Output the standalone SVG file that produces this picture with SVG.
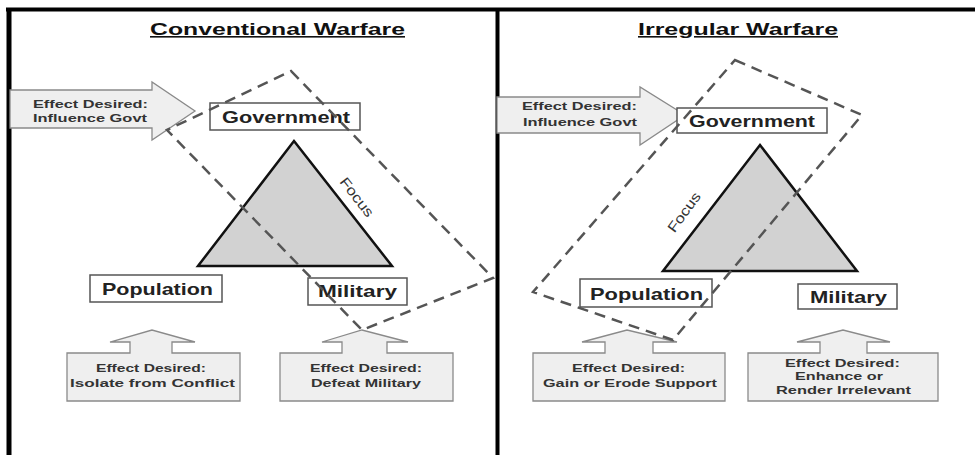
<svg xmlns="http://www.w3.org/2000/svg" width="975" height="455" viewBox="0 0 975 455">
<style>
text{font-family:"Liberation Sans",Arial,sans-serif;fill:#111}
.title{font-size:16px;font-weight:bold;text-decoration:underline}
.node{fill:#fff;stroke:#555;stroke-width:1.5}
.nodet{font-size:17px;font-weight:bold;fill:#222}
.arrow{fill:#efefef;stroke:#8a8a8a;stroke-width:1.3}
.eff{font-size:11.5px;font-weight:bold;fill:#333}
.tri{fill:#d2d2d2;stroke:#111;stroke-width:2.5;stroke-linejoin:miter}
.focus{fill:none;stroke:#555;stroke-width:2.5;stroke-dasharray:11 7}
.ft{font-size:14px;fill:#333}
.frame{stroke:#000;fill:none}
</style>
<rect width="975" height="455" fill="#fff"/>
<g id="frame">
<line class="frame" x1="6" y1="9.5" x2="975" y2="9.5" stroke-width="4"/>
<line class="frame" x1="9" y1="8" x2="9" y2="455" stroke-width="5"/>
<line class="frame" x1="497.5" y1="8" x2="497.5" y2="455" stroke-width="4"/>
</g>

<!-- Left panel -->
<g id="title-conventional"><text class="title" x="150" y="35" textLength="255" lengthAdjust="spacingAndGlyphs">Conventional Warfare</text></g>
<g id="conv-govt-arrow">
<polygon class="arrow" points="10,90 152,90 152,82 195,111 152,140 152,128 10,128"/>
<text class="eff" x="33" y="108" textLength="115" lengthAdjust="spacingAndGlyphs">Effect Desired:</text>
<text class="eff" x="33" y="122" textLength="114" lengthAdjust="spacingAndGlyphs">Influence Govt</text>
</g>
<g id="conv-government">
<rect class="node" x="210" y="103" width="150" height="27"/>
<text class="nodet" x="222" y="123" textLength="128" lengthAdjust="spacingAndGlyphs">Government</text>
</g>
<g id="conv-triangle"><polygon class="tri" points="294,141 392,266 198,266"/></g>
<g id="conv-population">
<rect class="node" x="90" y="275" width="132" height="27"/>
<text class="nodet" x="102" y="295" textLength="111" lengthAdjust="spacingAndGlyphs">Population</text>
</g>
<g id="conv-military">
<rect class="node" x="308" y="278" width="99" height="27"/>
<text class="nodet" x="318" y="297" textLength="79" lengthAdjust="spacingAndGlyphs">Military</text>
</g>
<g id="conv-isolate">
<path class="arrow" d="M67,353 L130,353 L130,342 L110,342 L152,330 L195,342 L172,342 L172,353 L240,353 L240,401 L67,401 Z"/>
<text class="eff" x="96" y="372" textLength="110" lengthAdjust="spacingAndGlyphs">Effect Desired:</text>
<text class="eff" x="70" y="387" textLength="165" lengthAdjust="spacingAndGlyphs">Isolate from Conflict</text>
</g>
<g id="conv-defeat">
<path class="arrow" d="M280,353 L342,353 L342,342 L322,342 L362,330 L408,342 L387,342 L387,353 L453,353 L453,401 L280,401 Z"/>
<text class="eff" x="310" y="372" textLength="112" lengthAdjust="spacingAndGlyphs">Effect Desired:</text>
<text class="eff" x="311" y="387" textLength="110" lengthAdjust="spacingAndGlyphs">Defeat Military</text>
</g>

<!-- Right panel -->
<g id="title-irregular"><text class="title" x="638" y="35" textLength="200" lengthAdjust="spacingAndGlyphs">Irregular Warfare</text></g>
<g id="irr-govt-arrow">
<polygon class="arrow" points="497,97 640,97 640,87 685,115 640,145 640,133 497,133"/>
<text class="eff" x="522" y="110" textLength="115" lengthAdjust="spacingAndGlyphs">Effect Desired:</text>
<text class="eff" x="523" y="126" textLength="114" lengthAdjust="spacingAndGlyphs">Influence Govt</text>
</g>
<g id="irr-government">
<rect class="node" x="677" y="108" width="150" height="25"/>
<text class="nodet" x="689" y="127" textLength="126" lengthAdjust="spacingAndGlyphs">Government</text>
</g>
<g id="irr-triangle"><polygon class="tri" points="760,145 857,271 663,271"/></g>
<g id="irr-population">
<rect class="node" x="580" y="279" width="132" height="28"/>
<text class="nodet" x="590" y="300" textLength="113" lengthAdjust="spacingAndGlyphs">Population</text>
</g>
<g id="irr-military">
<rect class="node" x="798" y="284" width="99" height="25"/>
<text class="nodet" x="810" y="303" textLength="77" lengthAdjust="spacingAndGlyphs">Military</text>
</g>
<g id="irr-support">
<path class="arrow" d="M533,353 L605,353 L605,342 L582,342 L627,330 L677,342 L653,342 L653,353 L725,353 L725,401 L533,401 Z"/>
<text class="eff" x="572" y="372" textLength="113" lengthAdjust="spacingAndGlyphs">Effect Desired:</text>
<text class="eff" x="543" y="387" textLength="174" lengthAdjust="spacingAndGlyphs">Gain or Erode Support</text>
</g>
<g id="irr-enhance">
<path class="arrow" d="M748,353 L820,353 L820,342 L797,342 L843,330 L890,342 L867,342 L867,353 L938,353 L938,401 L748,401 Z"/>
<text class="eff" x="785" y="367" textLength="115" lengthAdjust="spacingAndGlyphs">Effect Desired:</text>
<text class="eff" x="795" y="380" textLength="88" lengthAdjust="spacingAndGlyphs">Enhance or</text>
<text class="eff" x="776" y="394" textLength="135" lengthAdjust="spacingAndGlyphs">Render Irrelevant</text>
</g>

<!-- Focus regions -->
<g id="connectors">
<g id="conv-focus">
<polygon class="focus" points="291,71 493,278 362,330 167,130"/>
<text class="ft" transform="translate(357,197) rotate(52)" text-anchor="middle" dy="5" textLength="46" lengthAdjust="spacingAndGlyphs">Focus</text>
</g>
<g id="irr-focus">
<polygon class="focus" points="735,60 862,115 673,340 533,292"/>
<text class="ft" transform="translate(684,212) rotate(-54)" text-anchor="middle" dy="5" textLength="46" lengthAdjust="spacingAndGlyphs">Focus</text>
</g>
</g>
</svg>
